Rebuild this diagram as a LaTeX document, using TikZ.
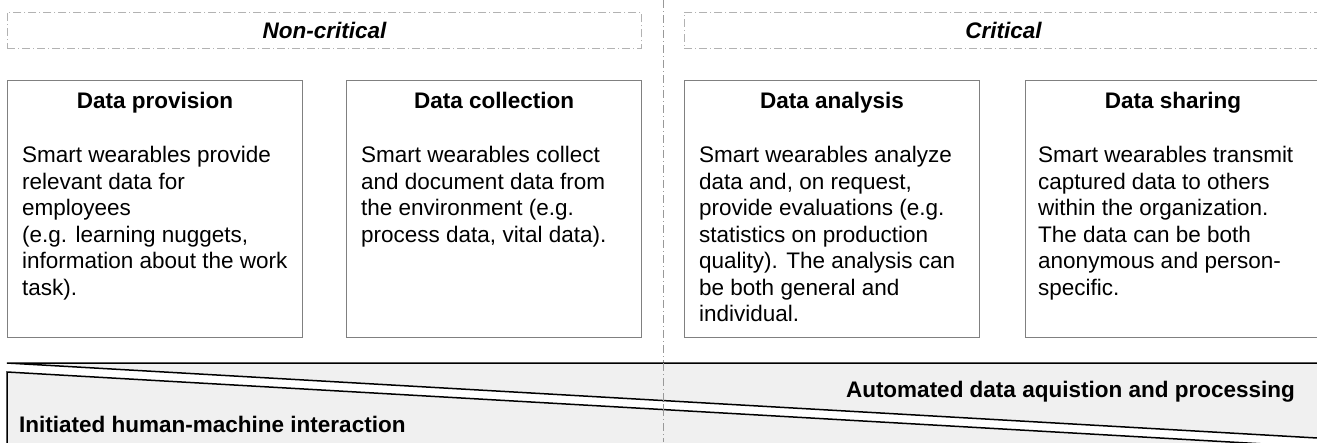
\documentclass[tikz,border=0pt]{standalone}
\usepackage{fontspec}
\setmainfont{Liberation Sans}
\usetikzlibrary{positioning}
\begin{document}
\begin{tikzpicture}[x=1pt,y=-1pt,
    box/.style={draw=black!50,line width=1.2pt,rectangle,minimum width=295pt,minimum height=257pt,anchor=north west,inner sep=0pt},
    head/.style={font=\fontsize{22.5}{26}\selectfont\bfseries,anchor=base,inner sep=0pt},
    body/.style={font=\fontsize{22.5}{26.5}\selectfont,align=left,anchor=north west,inner sep=0pt},
    zone/.style={draw=black!30,line width=0.9pt,dash pattern=on 8pt off 3pt on 1pt off 3pt,rectangle,minimum height=36pt,anchor=north west,inner sep=0pt,font=\fontsize{22.5}{26}\selectfont\bfseries\itshape},
    band/.style={fill=black!6,draw=black,line width=1.5pt},
    label/.style={font=\fontsize{22.5}{26}\selectfont\bfseries,inner sep=0pt}]
    \useasboundingbox (0,0) rectangle (1317,442);
    \clip (0,0) rectangle (1317,442);
    %% Zones
    \node[zone,minimum width=634pt] (N) at (7,12) {Non-critical};
    \node[zone,minimum width=646pt,text width=636pt,align=center] (C) at (684,12) {\hspace*{-8pt}Critical};
    %% Divider
    \draw[black!40,line width=0.9pt,dash pattern=on 8pt off 3pt on 1pt off 3pt] (663,0) -- (663,442);
    %% Boxes
    \node[box] (A) at (7,80) {};
    \node[box] (B) at (346,80) {};
    \node[box] (D) at (684,80) {};
    \node[box] (E) at (1025,80) {};
    %% Titles
    \node[head] (At) at (A.north) [yshift=-28pt] {Data provision};
    \node[head] (Bt) at (B.north) [yshift=-28pt] {Data collection};
    \node[head] (Dt) at (D.north) [yshift=-28pt] {Data analysis};
    \node[head] (Et) at (E.north) [yshift=-28pt] {Data sharing};
    %% Texts
    \node[body] (Ab) at (A.north west) [xshift=15pt,yshift=-66pt] {Smart wearables provide\\relevant data for\\employees\\(e.g. learning nuggets,\\information about the work\\task).};
    \node[body] (Bb) at (B.north west) [xshift=15pt,yshift=-66pt] {Smart wearables collect\\and document data from\\the environment (e.g.\\process data, vital data).};
    \node[body] (Db) at (D.north west) [xshift=15pt,yshift=-66pt] {Smart wearables analyze\\data and, on request,\\provide evaluations (e.g.\\statistics on production\\quality). The analysis can\\be both general and\\individual.};
    \node[body] (Eb) at (E.north west) [xshift=13pt,yshift=-66pt] {Smart wearables transmit\\captured data to others\\within the organization.\\The data can be both\\anonymous and person-\\specific.};
    %% Band
    \filldraw[band] (7,363) -- (1340,363) -- (1340,439.3) -- cycle;
    \filldraw[band] (7,372) -- (1340,448.3) -- (1340,470) -- (7,470) -- cycle;
    \draw[black!40,line width=0.9pt,dash pattern=on 8pt off 3pt on 1pt off 3pt] (663,363) -- (663,442);
    \node[label,anchor=base east] (Au) at (1295,397) {Automated data aquistion and processing};
    \node[label,anchor=base west] (In) at (19,432) {Initiated human-machine interaction};
\end{tikzpicture}
\end{document}
